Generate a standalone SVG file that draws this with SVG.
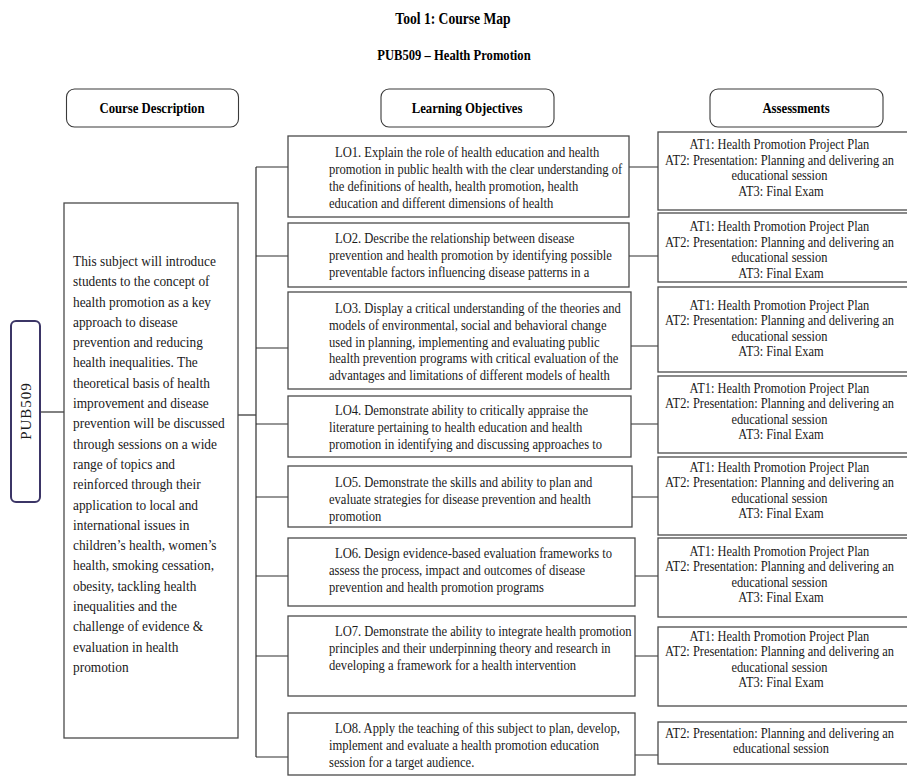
<svg xmlns="http://www.w3.org/2000/svg" width="907" height="776" viewBox="0 0 907 776">
<style>
  .bg{fill:#fff}
  .hdr{fill:#fff;stroke:#3a3a3a;stroke-width:1.1}
  .box{fill:#fff;stroke:#4a4a4a;stroke-width:1.3}
  .pub{fill:#fff;stroke:#3b3566;stroke-width:2}
  .ttl{font-family:"Liberation Serif","Times New Roman",serif;font-weight:bold;fill:#000;text-anchor:middle}
  .desc{font-family:"Liberation Serif","Times New Roman",serif;font-size:15.2px;fill:#1a1a1a}
  .lo{font-family:"Liberation Serif","Times New Roman",serif;font-size:14.3px;fill:#1a1a1a}
  .at{font-family:"Liberation Serif","Times New Roman",serif;font-size:14.1px;fill:#1a1a1a;text-anchor:middle}
  .con{fill:none;stroke:#2e2e2e;stroke-width:1.2}
</style>
<rect class="bg" x="0" y="0" width="907" height="776"/>

<g id="title">
  <text class="ttl" font-size="17" transform="translate(453,24) scale(0.8,1)" x="0" y="0">Tool 1: Course Map</text>
</g>
<g id="subtitle">
  <text class="ttl" font-size="15" transform="translate(454,60) scale(0.84,1)" x="0" y="0">PUB509 – Health Promotion</text>
</g>

<g id="hdr-course-description">
  <rect class="hdr" x="66.5" y="89" width="172" height="38" rx="8"/>
  <text class="ttl" font-size="15" transform="translate(152,113) scale(0.85,1)" x="0" y="0">Course Description</text>
</g>
<g id="hdr-learning-objectives">
  <rect class="hdr" x="381" y="89" width="173" height="38" rx="8"/>
  <text class="ttl" font-size="15" transform="translate(467,113) scale(0.85,1)" x="0" y="0">Learning Objectives</text>
</g>
<g id="hdr-assessments">
  <rect class="hdr" x="710" y="89" width="173" height="38" rx="8"/>
  <text class="ttl" font-size="15" transform="translate(796,113) scale(0.85,1)" x="0" y="0">Assessments</text>
</g>

<g id="connectors">
  <path class="con" d="M40 412 H64"/>
  <path class="con" d="M238 415 H256"/>
  <path class="con" d="M256 167 V757"/>
  <path class="con" d="M256 167 H288 M256 256 H288 M256 348 H288 M256 424 H288 M256 497 H288 M256 576 H288 M256 656 H288 M256 757 H288"/>
  <path class="con" d="M629 167 H658 M629 256 H658 M631 346 H658 M631 424 H658 M632 497 H658 M635 576 H658 M635 656 H658 M635 755 H658"/>
</g>

<g id="pub509">
  <rect class="pub" x="11" y="321" width="29" height="181" rx="5"/>
  <text font-family="Liberation Serif, Times New Roman, serif" font-size="15" letter-spacing="1" fill="#1a1a1a" text-anchor="middle" transform="translate(31,411) rotate(-90)" x="0" y="0">PUB509</text>
</g>

<g id="course-description">
  <rect class="box" x="64" y="203" width="174" height="535"/>
  <text class="desc" transform="translate(73,0) scale(0.88,1)">
    <tspan x="0" y="266">This subject will introduce</tspan>
    <tspan x="0" y="286.3">students to the concept of</tspan>
    <tspan x="0" y="306.6">health promotion as a key</tspan>
    <tspan x="0" y="326.9">approach to disease</tspan>
    <tspan x="0" y="347.2">prevention and reducing</tspan>
    <tspan x="0" y="367.5">health inequalities. The</tspan>
    <tspan x="0" y="387.8">theoretical basis of health</tspan>
    <tspan x="0" y="408.1">improvement and disease</tspan>
    <tspan x="0" y="428.4">prevention will be discussed</tspan>
    <tspan x="0" y="448.7">through sessions on a wide</tspan>
    <tspan x="0" y="469">range of topics and</tspan>
    <tspan x="0" y="489.3">reinforced through their</tspan>
    <tspan x="0" y="509.6">application to local and</tspan>
    <tspan x="0" y="529.9">international issues in</tspan>
    <tspan x="0" y="550.2">children’s health, women’s</tspan>
    <tspan x="0" y="570.5">health, smoking cessation,</tspan>
    <tspan x="0" y="590.8">obesity, tackling health</tspan>
    <tspan x="0" y="611.1">inequalities and the</tspan>
    <tspan x="0" y="631.4">challenge of evidence &amp;</tspan>
    <tspan x="0" y="651.7">evaluation in health</tspan>
    <tspan x="0" y="672">promotion</tspan>
  </text>
</g>

<g id="lo1">
  <rect class="box" x="288" y="136" width="341" height="81"/>
  <text class="lo" transform="translate(329,0) scale(0.88,1)">
    <tspan x="6.8" y="157.5">LO1. Explain the role of health education and health</tspan>
    <tspan x="0" y="174.3">promotion in public health with the clear understanding of</tspan>
    <tspan x="0" y="191.1">the definitions of health, health promotion, health</tspan>
    <tspan x="0" y="207.9">education and different dimensions of health</tspan>
  </text>
</g>
<g id="lo2">
  <rect class="box" x="288" y="223" width="341" height="64"/>
  <text class="lo" transform="translate(329,0) scale(0.88,1)">
    <tspan x="6.8" y="243">LO2. Describe the relationship between disease</tspan>
    <tspan x="0" y="259.8">prevention and health promotion by identifying possible</tspan>
    <tspan x="0" y="276.6">preventable factors influencing disease patterns in a</tspan>
  </text>
</g>
<g id="lo3">
  <rect class="box" x="288" y="292" width="343" height="97"/>
  <text class="lo" transform="translate(329,0) scale(0.88,1)">
    <tspan x="6.8" y="313">LO3. Display a critical understanding of the theories and</tspan>
    <tspan x="0" y="329.8">models of environmental, social and behavioral change</tspan>
    <tspan x="0" y="346.6">used in planning, implementing and evaluating public</tspan>
    <tspan x="0" y="363.4">health prevention programs with critical evaluation of the</tspan>
    <tspan x="0" y="380.2">advantages and limitations of different models of health</tspan>
  </text>
</g>
<g id="lo4">
  <rect class="box" x="288" y="396" width="343" height="61"/>
  <text class="lo" transform="translate(329,0) scale(0.88,1)">
    <tspan x="6.8" y="415">LO4. Demonstrate ability to critically appraise the</tspan>
    <tspan x="0" y="431.8">literature pertaining to health education and health</tspan>
    <tspan x="0" y="448.6">promotion in identifying and discussing approaches to</tspan>
  </text>
</g>
<g id="lo5">
  <rect class="box" x="288" y="466" width="344" height="61"/>
  <text class="lo" transform="translate(329,0) scale(0.88,1)">
    <tspan x="6.8" y="487">LO5. Demonstrate the skills and ability to plan and</tspan>
    <tspan x="0" y="503.8">evaluate strategies for disease prevention and health</tspan>
    <tspan x="0" y="520.6">promotion</tspan>
  </text>
</g>
<g id="lo6">
  <rect class="box" x="288" y="538" width="347" height="68"/>
  <text class="lo" transform="translate(329,0) scale(0.88,1)">
    <tspan x="6.8" y="558">LO6. Design evidence-based evaluation frameworks to</tspan>
    <tspan x="0" y="574.8">assess the process, impact and outcomes of disease</tspan>
    <tspan x="0" y="591.6">prevention and health promotion programs</tspan>
  </text>
</g>
<g id="lo7">
  <rect class="box" x="288" y="616" width="347" height="80"/>
  <text class="lo" transform="translate(329,0) scale(0.88,1)">
    <tspan x="6.8" y="636">LO7. Demonstrate the ability to integrate health promotion</tspan>
    <tspan x="0" y="652.8">principles and their underpinning theory and research in</tspan>
    <tspan x="0" y="669.6">developing a framework for a health intervention</tspan>
  </text>
</g>
<g id="lo8">
  <rect class="box" x="288" y="713" width="347" height="62"/>
  <text class="lo" transform="translate(329,0) scale(0.88,1)">
    <tspan x="6.8" y="733">LO8. Apply the teaching of this subject to plan, develop,</tspan>
    <tspan x="0" y="749.8">implement and evaluate a health promotion education</tspan>
    <tspan x="0" y="766.6">session for a target audience.</tspan>
  </text>
</g>

<g id="at1">
  <rect class="box" x="658" y="132" width="252" height="78"/>
  <text class="at" transform="translate(781,0) scale(0.88,1)">
    <tspan x="0" y="149.5">AT1: Health Promotion Project Plan</tspan>
    <tspan x="0" y="164.9">AT2: Presentation: Planning and delivering an</tspan>
    <tspan x="0" y="180.3">educational session</tspan>
    <tspan x="0" y="195.7">AT3: Final Exam</tspan>
  </text>
</g>
<g id="at2">
  <rect class="box" x="658" y="213" width="252" height="69"/>
  <text class="at" transform="translate(781,0) scale(0.88,1)">
    <tspan x="0" y="231.5">AT1: Health Promotion Project Plan</tspan>
    <tspan x="0" y="246.9">AT2: Presentation: Planning and delivering an</tspan>
    <tspan x="0" y="262.3">educational session</tspan>
    <tspan x="0" y="277.7">AT3: Final Exam</tspan>
  </text>
</g>
<g id="at3">
  <rect class="box" x="658" y="287" width="252" height="85"/>
  <text class="at" transform="translate(781,0) scale(0.88,1)">
    <tspan x="0" y="310">AT1: Health Promotion Project Plan</tspan>
    <tspan x="0" y="325.4">AT2: Presentation: Planning and delivering an</tspan>
    <tspan x="0" y="340.8">educational session</tspan>
    <tspan x="0" y="356.2">AT3: Final Exam</tspan>
  </text>
</g>
<g id="at4">
  <rect class="box" x="658" y="376" width="252" height="77"/>
  <text class="at" transform="translate(781,0) scale(0.88,1)">
    <tspan x="0" y="393">AT1: Health Promotion Project Plan</tspan>
    <tspan x="0" y="408.4">AT2: Presentation: Planning and delivering an</tspan>
    <tspan x="0" y="423.8">educational session</tspan>
    <tspan x="0" y="439.2">AT3: Final Exam</tspan>
  </text>
</g>
<g id="at5">
  <rect class="box" x="658" y="457" width="252" height="78"/>
  <text class="at" transform="translate(781,0) scale(0.88,1)">
    <tspan x="0" y="472">AT1: Health Promotion Project Plan</tspan>
    <tspan x="0" y="487.4">AT2: Presentation: Planning and delivering an</tspan>
    <tspan x="0" y="502.8">educational session</tspan>
    <tspan x="0" y="518.2">AT3: Final Exam</tspan>
  </text>
</g>
<g id="at6">
  <rect class="box" x="658" y="538" width="252" height="79"/>
  <text class="at" transform="translate(781,0) scale(0.88,1)">
    <tspan x="0" y="556">AT1: Health Promotion Project Plan</tspan>
    <tspan x="0" y="571.4">AT2: Presentation: Planning and delivering an</tspan>
    <tspan x="0" y="586.8">educational session</tspan>
    <tspan x="0" y="602.2">AT3: Final Exam</tspan>
  </text>
</g>
<g id="at7">
  <rect class="box" x="658" y="627" width="252" height="79"/>
  <text class="at" transform="translate(781,0) scale(0.88,1)">
    <tspan x="0" y="641">AT1: Health Promotion Project Plan</tspan>
    <tspan x="0" y="656.4">AT2: Presentation: Planning and delivering an</tspan>
    <tspan x="0" y="671.8">educational session</tspan>
    <tspan x="0" y="687.2">AT3: Final Exam</tspan>
  </text>
</g>
<g id="at8">
  <rect class="box" x="658" y="722" width="252" height="42"/>
  <text class="at" transform="translate(781,0) scale(0.88,1)">
    <tspan x="0" y="738">AT2: Presentation: Planning and delivering an</tspan>
    <tspan x="0" y="753.4">educational session</tspan>
  </text>
</g>
</svg>
